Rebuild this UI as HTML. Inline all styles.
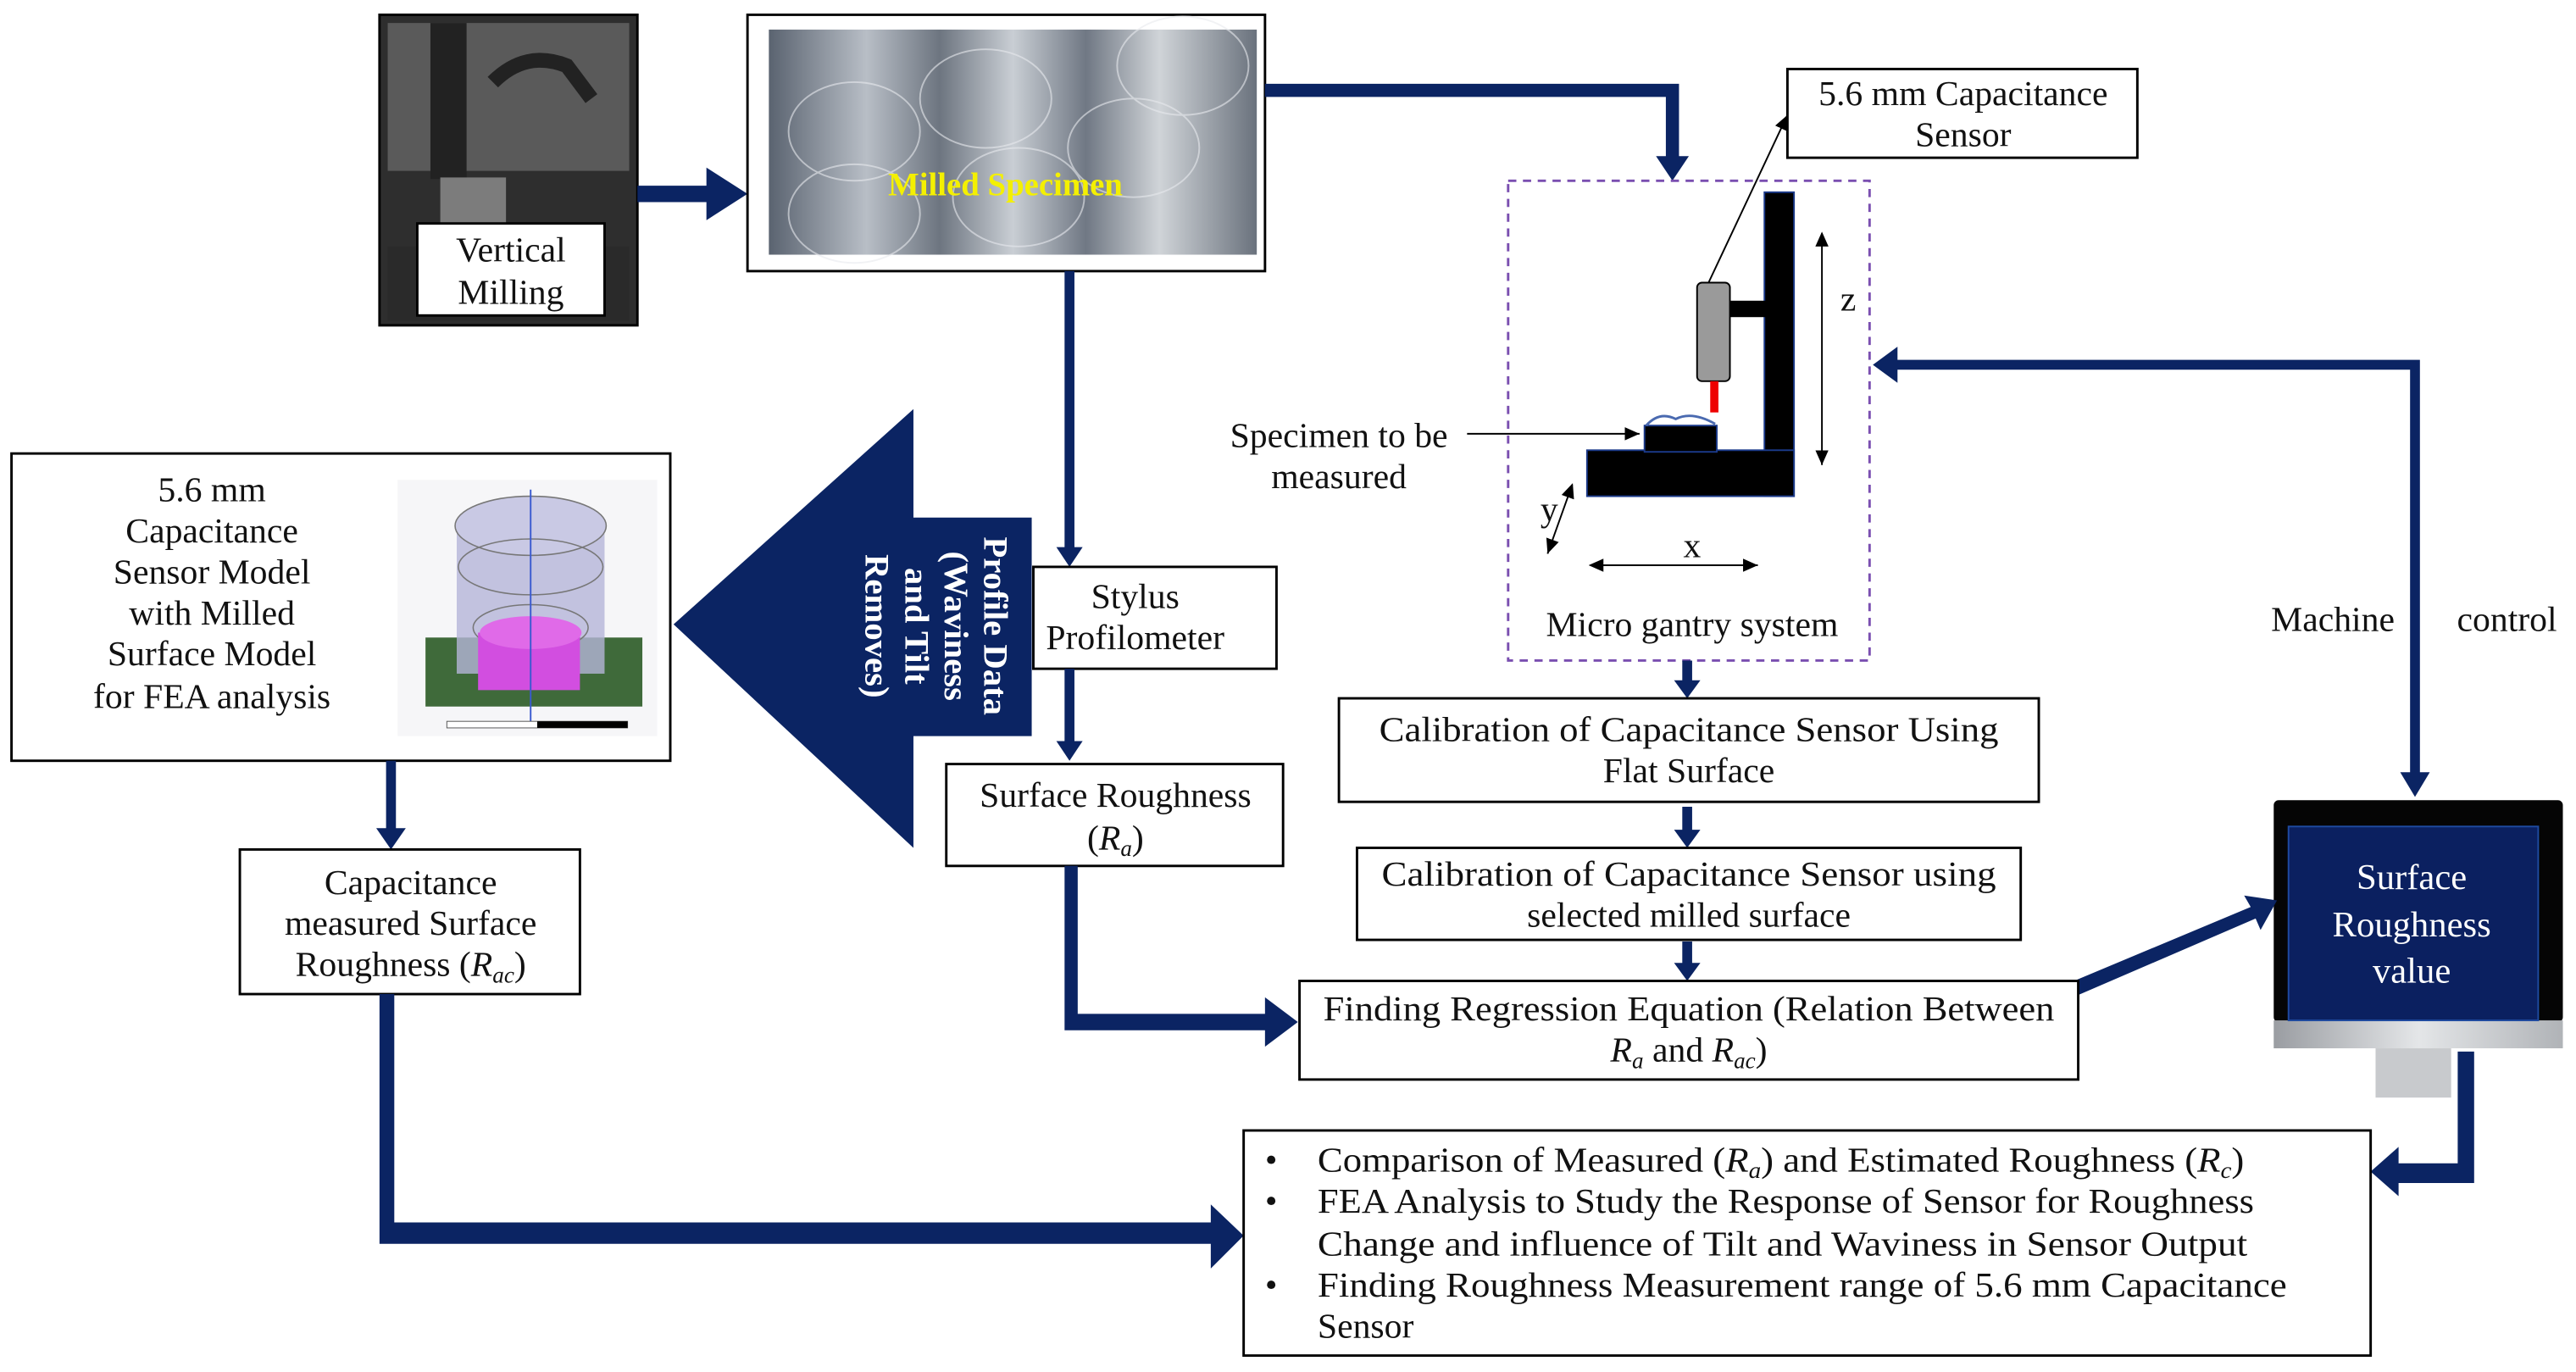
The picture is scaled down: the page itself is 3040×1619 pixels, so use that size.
<!DOCTYPE html>
<html><head><meta charset="utf-8"><style>
html,body{margin:0;padding:0;background:#fff;}
svg{display:block;}
text{font-family:"Liberation Serif",serif;font-size:21.5px;fill:#111;}
</style></head><body>
<svg width="3040" height="1619" viewBox="0 0 1568 835" preserveAspectRatio="none" xmlns="http://www.w3.org/2000/svg">
<defs>
<linearGradient id="met" x1="0" y1="0" x2="1" y2="0">
<stop offset="0" stop-color="#5a6370"/><stop offset="0.2" stop-color="#b8bec6"/><stop offset="0.35" stop-color="#6d7580"/><stop offset="0.5" stop-color="#c9ced4"/><stop offset="0.65" stop-color="#707884"/><stop offset="0.8" stop-color="#d0d4d8"/><stop offset="1" stop-color="#6a727d"/>
</linearGradient>
<linearGradient id="chin" x1="0" y1="0" x2="1" y2="0"><stop offset="0" stop-color="#9a9da2"/><stop offset="0.5" stop-color="#e4e6e8"/><stop offset="1" stop-color="#b0b3b7"/></linearGradient>
<marker id="ah" markerWidth="10" markerHeight="10" refX="9" refY="5" orient="auto" markerUnits="userSpaceOnUse"><path d="M0,1 L9,5 L0,9 z" fill="#000"/></marker>
<marker id="ah2" markerWidth="10" markerHeight="10" refX="1" refY="5" orient="auto" markerUnits="userSpaceOnUse"><path d="M9,1 L0,5 L9,9 z" fill="#000"/></marker>
</defs>

<!-- Vertical milling photo -->
<rect x="231" y="9" width="157" height="189" fill="#2e2e2e" stroke="#000" stroke-width="1.5"/>
<rect x="236" y="14" width="147" height="90" fill="#5a5a5a"/>
<rect x="262" y="14" width="22" height="95" fill="#222"/>
<rect x="268" y="108" width="40" height="30" fill="#7c7c7c"/>
<path d="M300,50 Q320,30 345,40 L360,60" stroke="#222" stroke-width="9" fill="none"/>
<rect x="236" y="150" width="147" height="45" fill="#2a2a2a"/>
<rect x="254" y="136" width="114" height="56" fill="#fff" stroke="#000" stroke-width="1.5"/>
<text x="311" y="159" text-anchor="middle">Vertical</text>
<text x="311" y="185" text-anchor="middle">Milling</text>

<path d="M388,113 L430,113 L430,102 L455,118 L430,134 L430,123 L388,123 z" fill="#0b2463"/>

<!-- Milled specimen -->
<rect x="455" y="9" width="315" height="156" fill="#fff" stroke="#000" stroke-width="1.5"/>
<rect x="468" y="18" width="297" height="137" fill="url(#met)"/>
<g fill="none" stroke="#e8eaee" stroke-width="1" opacity="0.6">
<ellipse cx="520" cy="80" rx="40" ry="30"/><ellipse cx="600" cy="60" rx="40" ry="30"/><ellipse cx="690" cy="90" rx="40" ry="30"/><ellipse cx="520" cy="130" rx="40" ry="30"/><ellipse cx="620" cy="120" rx="40" ry="30"/><ellipse cx="720" cy="40" rx="40" ry="30"/>
</g>
<text x="612" y="119" text-anchor="middle" style="fill:#f4f000;font-weight:bold;font-size:20px">Milled Specimen</text>

<path d="M770,51 L1022,51 L1022,95 L1028,95 L1018,110 L1008,95 L1014,95 L1014,59 L770,59 z" fill="#0b2463"/>
<path d="M648,165 L654,165 L654,333 L659,333 L651,345 L643,333 L648,333 z" fill="#0b2463"/>

<!-- sensor label -->
<rect x="1088" y="42" width="213" height="54" fill="#fff" stroke="#000" stroke-width="1.5"/>
<text x="1195" y="64" text-anchor="middle">5.6 mm Capacitance</text>
<text x="1195" y="89" text-anchor="middle">Sensor</text>
<line x1="1040" y1="172" x2="1088" y2="70" stroke="#000" stroke-width="1" marker-end="url(#ah)"/>

<!-- dashed gantry -->
<rect x="918" y="110" width="220" height="292" fill="none" stroke="#7a4fb0" stroke-width="1.5" stroke-dasharray="5,4"/>
<rect x="1074" y="117" width="18" height="185" fill="#000" stroke="#1b3a8a" stroke-width="1"/>
<rect x="966" y="274" width="126" height="28" fill="#000" stroke="#1b3a8a" stroke-width="1"/>
<rect x="1001" y="259" width="44" height="16" fill="#000" stroke="#1b3a8a" stroke-width="1"/>
<path d="M1002,259 Q1010,250 1020,255 Q1030,250 1044,258" stroke="#4a6ab0" fill="none" stroke-width="1.5"/>
<rect x="1053" y="183" width="22" height="10" fill="#000"/>
<rect x="1033" y="172" width="20" height="60" rx="3" fill="#9a9a9a" stroke="#000" stroke-width="1"/>
<rect x="1041" y="232" width="5" height="19" fill="#e00"/>
<line x1="1109" y1="142" x2="1109" y2="283" stroke="#000" stroke-width="1" marker-end="url(#ah)" marker-start="url(#ah2)"/>
<text x="1125" y="189" text-anchor="middle">z</text>
<line x1="968" y1="344" x2="1070" y2="344" stroke="#000" stroke-width="1" marker-end="url(#ah)" marker-start="url(#ah2)"/>
<text x="1030" y="339" text-anchor="middle">x</text>
<line x1="957" y1="295" x2="942" y2="337" stroke="#000" stroke-width="1" marker-end="url(#ah)" marker-start="url(#ah2)"/>
<text x="943" y="317" text-anchor="middle">y</text>
<text x="815" y="272" text-anchor="middle">Specimen to be</text>
<text x="815" y="297" text-anchor="middle">measured</text>
<line x1="893" y1="264" x2="998" y2="264" stroke="#000" stroke-width="1" marker-end="url(#ah)"/>
<text x="1030" y="387" text-anchor="middle">Micro gantry  system</text>

<!-- machine control -->
<path d="M1473,219 L1473,470 L1479,470 L1470,485 L1461,470 L1467,470 L1467,225 L1155,225 L1155,233 L1140,222 L1155,211 L1155,219 z" fill="#0b2463"/>
<text x="1420" y="384" text-anchor="middle">Machine</text>
<text x="1526" y="384" text-anchor="middle">control</text>

<!-- monitor -->
<rect x="1384" y="487" width="176" height="135" rx="3" fill="#050505"/>
<rect x="1384" y="621" width="176" height="17" fill="url(#chin)"/>
<rect x="1393" y="503" width="152" height="118" fill="#0b2060" stroke="#1e4aa0" stroke-width="1"/>
<rect x="1446" y="638" width="46" height="30" fill="#c8cacd"/>
<text x="1468" y="541" text-anchor="middle" style="fill:#fff;font-size:22px">Surface</text>
<text x="1468" y="570" text-anchor="middle" style="fill:#fff;font-size:22px">Roughness</text>
<text x="1468" y="598" text-anchor="middle" style="fill:#fff;font-size:22px">value</text>

<path d="M1496,640 L1506,640 L1506,720 L1460,720 L1460,728 L1443,713 L1460,698 L1460,708 L1496,708 z" fill="#0b2463"/>
<path d="M1260,598 L1370,552 L1366,545 L1386,548 L1376,566 L1373,559 L1264,606 z" fill="#0b2463"/>

<!-- FEA box -->
<rect x="7" y="276" width="401" height="187" fill="#fff" stroke="#000" stroke-width="1.5"/>
<text x="129" y="305" text-anchor="middle">5.6 mm</text>
<text x="129" y="330" text-anchor="middle">Capacitance</text>
<text x="129" y="355" text-anchor="middle">Sensor Model</text>
<text x="129" y="380" text-anchor="middle">with Milled</text>
<text x="129" y="405" text-anchor="middle">Surface Model</text>
<text x="129" y="431" text-anchor="middle">for FEA analysis</text>
<rect x="242" y="292" width="158" height="156" fill="#f6f6f8"/>
<rect x="259" y="388" width="132" height="42" fill="#3f6a3a"/>
<rect x="278" y="320" width="90" height="90" fill="#b5b5d8" opacity="0.8"/>
<ellipse cx="323" cy="320" rx="46" ry="18" fill="#c9c9e4" stroke="#777" stroke-width="0.8"/>
<ellipse cx="323" cy="345" rx="44" ry="17" fill="none" stroke="#777" stroke-width="0.8"/>
<ellipse cx="323" cy="382" rx="35" ry="14" fill="none" stroke="#777" stroke-width="0.8"/>
<rect x="291" y="385" width="62" height="35" fill="#d24ee0"/>
<ellipse cx="323" cy="385" rx="31" ry="10" fill="#e06ae8"/>
<line x1="323" y1="298" x2="323" y2="440" stroke="#3a5ad0" stroke-width="1"/>
<rect x="272" y="439" width="110" height="4" fill="#fff" stroke="#555" stroke-width="0.5"/>
<rect x="327" y="439" width="55" height="4" fill="#000"/>

<!-- big profile arrow -->
<path d="M410,380 L556,249 L556,315 L628,315 L628,448 L556,448 L556,516 z" fill="#0b2463"/>
<g transform="translate(592,381) rotate(90)" style="font-weight:bold">
<text x="0" y="-7" text-anchor="middle" style="fill:#fff;font-size:21px">Profile Data</text>
<text x="0" y="17" text-anchor="middle" style="fill:#fff;font-size:21px">(Waviness</text>
<text x="0" y="41" text-anchor="middle" style="fill:#fff;font-size:21px">and Tilt</text>
<text x="0" y="65" text-anchor="middle" style="fill:#fff;font-size:21px">Removes)</text>
</g>

<!-- stylus -->
<rect x="629" y="345" width="148" height="62" fill="#fff" stroke="#000" stroke-width="1.5"/>
<text x="691" y="370" text-anchor="middle">Stylus</text>
<text x="691" y="395" text-anchor="middle">Profilometer</text>
<path d="M648,407 L654,407 L654,451 L659,451 L651,463 L643,451 L648,451 z" fill="#0b2463"/>

<rect x="576" y="465" width="205" height="62" fill="#fff" stroke="#000" stroke-width="1.5"/>
<text x="679" y="491" text-anchor="middle">Surface Roughness</text>
<text x="679" y="517" text-anchor="middle">(<tspan font-style="italic">R</tspan><tspan font-style="italic" font-size="14" dy="4">a</tspan><tspan dy="-4">)</tspan></text>
<path d="M648,527 L656,527 L656,617 L770,617 L770,607 L790,622 L770,637 L770,627 L648,627 z" fill="#0b2463"/>

<!-- calibration -->
<path d="M1024,402 L1030,402 L1030,414 L1035,414 L1027,425 L1019,414 L1024,414 z" fill="#0b2463"/>
<rect x="815" y="425" width="426" height="63" fill="#fff" stroke="#000" stroke-width="1.5"/>
<text x="1028" y="451" text-anchor="middle" textLength="377" lengthAdjust="spacingAndGlyphs">Calibration of Capacitance Sensor Using</text>
<text x="1028" y="476" text-anchor="middle">Flat Surface</text>
<path d="M1024,491 L1030,491 L1030,505 L1035,505 L1027,516 L1019,505 L1024,505 z" fill="#0b2463"/>
<rect x="826" y="516" width="404" height="56" fill="#fff" stroke="#000" stroke-width="1.5"/>
<text x="1028" y="539" text-anchor="middle" textLength="374" lengthAdjust="spacingAndGlyphs">Calibration of Capacitance Sensor using</text>
<text x="1028" y="564" text-anchor="middle">selected milled surface</text>
<path d="M1024,573 L1030,573 L1030,586 L1035,586 L1027,597 L1019,586 L1024,586 z" fill="#0b2463"/>
<rect x="791" y="597" width="474" height="60" fill="#fff" stroke="#000" stroke-width="1.5"/>
<text x="1028" y="621" text-anchor="middle" textLength="445" lengthAdjust="spacingAndGlyphs">Finding Regression Equation (Relation Between</text>
<text x="1028" y="646" text-anchor="middle"><tspan font-style="italic">R</tspan><tspan font-style="italic" font-size="14" dy="4">a</tspan><tspan dy="-4"> and </tspan><tspan font-style="italic">R</tspan><tspan font-style="italic" font-size="14" dy="4">ac</tspan><tspan dy="-4">)</tspan></text>

<!-- capacitance box -->
<path d="M235,463 L241,463 L241,504 L247,504 L238,517 L229,504 L235,504 z" fill="#0b2463"/>
<rect x="146" y="517" width="207" height="88" fill="#fff" stroke="#000" stroke-width="1.5"/>
<text x="250" y="544" text-anchor="middle">Capacitance</text>
<text x="250" y="569" text-anchor="middle">measured Surface</text>
<text x="250" y="594" text-anchor="middle">Roughness (<tspan font-style="italic">R</tspan><tspan font-style="italic" font-size="14" dy="4">ac</tspan><tspan dy="-4">)</tspan></text>
<path d="M231,605 L240,605 L240,744 L737,744 L737,733 L757,752 L737,772 L737,757 L231,757 z" fill="#0b2463"/>

<!-- bottom box -->
<rect x="757" y="688" width="686" height="137" fill="#fff" stroke="#000" stroke-width="1.5"/>
<text x="770" y="713">•</text>
<text x="802" y="713" textLength="564" lengthAdjust="spacingAndGlyphs">Comparison of Measured (<tspan font-style="italic">R</tspan><tspan font-style="italic" font-size="14" dy="4">a</tspan><tspan dy="-4">) and Estimated Roughness (</tspan><tspan font-style="italic">R</tspan><tspan font-style="italic" font-size="14" dy="4">c</tspan><tspan dy="-4">)</tspan></text>
<text x="770" y="738">•</text>
<text x="802" y="738" textLength="570" lengthAdjust="spacingAndGlyphs">FEA Analysis to Study the Response of Sensor for Roughness</text>
<text x="802" y="764" textLength="566" lengthAdjust="spacingAndGlyphs">Change and influence of Tilt and Waviness in Sensor Output</text>
<text x="770" y="789">•</text>
<text x="802" y="789" textLength="590" lengthAdjust="spacingAndGlyphs">Finding Roughness Measurement range of 5.6 mm Capacitance</text>
<text x="802" y="814">Sensor</text>
</svg>
</body></html>
